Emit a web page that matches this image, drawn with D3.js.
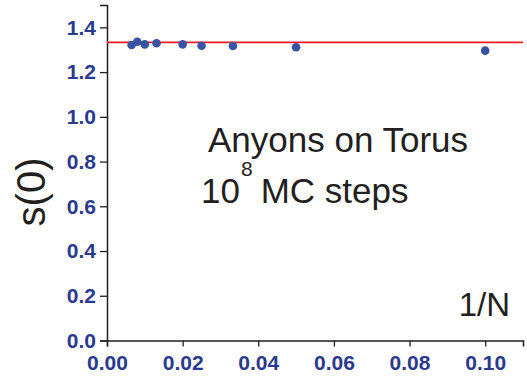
<!DOCTYPE html>
<html>
<head>
<meta charset="utf-8">
<script src="https://cdn.jsdelivr.net/npm/d3@7"></script>
<style>
  html, body { margin: 0; padding: 0; background: #fff; }
  svg { display: block; font-family: Arial, 'Liberation Sans', sans-serif; }
</style>
</head>
<body>
<div id="chart"></div>
<script>
// 1/N values and structure factor s(0)
const invN = [0.0065, 0.0080, 0.0100, 0.0131, 0.0200, 0.0250, 0.0333, 0.0500, 0.1000];
const s0 = [1.321, 1.336, 1.324, 1.329, 1.324, 1.318, 1.317, 1.311, 1.296];
const refLevel = 1.333;
const xTicks = [0, 0.02, 0.04, 0.06, 0.08, 0.10];
const xMinor = [0.01, 0.03, 0.05, 0.07, 0.09, 0.11];
const yTicks = [0, 0.2, 0.4, 0.6, 0.8, 1.0, 1.2, 1.4];
const yMinor = [0.1, 0.3, 0.5, 0.7, 0.9, 1.1, 1.3, 1.5];

const width = 527, height = 377;
const plot = { left: 107, right: 523, top: 5, bottom: 340.5 };
const labelColor = '#2b3990';
const axisColor = '#231f20';

const svg = d3.select('#chart').append('svg')
  .attr('width', width)
  .attr('height', height);

const x = d3.scaleLinear().domain([0, 0.11]).range([plot.left, plot.right]);
const y = d3.scaleLinear().domain([0, 1.5]).range([plot.bottom, plot.top]);

// x axis
const gx = svg.append('g').attr('transform', 'translate(0,' + plot.bottom + ')');
gx.call(d3.axisBottom(x).tickValues(xMinor).tickSize(4).tickFormat(''));
gx.call(d3.axisBottom(x).tickValues(xTicks).tickSize(6).tickPadding(5)
  .tickFormat(d3.format('.2f')));

// y axis
const gy = svg.append('g').attr('transform', 'translate(' + plot.left + ',0)');
gy.call(d3.axisLeft(y).tickValues(yMinor).tickSize(4).tickFormat(''));
gy.call(d3.axisLeft(y).tickValues(yTicks).tickSize(7).tickPadding(4)
  .tickFormat(d3.format('.1f')));

svg.selectAll('.domain').attr('stroke', axisColor).attr('stroke-width', 1.5);
svg.selectAll('.tick line').attr('stroke', axisColor).attr('stroke-width', 1.3);
svg.selectAll('.tick text')
  .attr('fill', labelColor)
  .style('font-size', '21px')
  .style('font-weight', 'bold');
gx.selectAll('.tick text').attr('dy', '0.9em');

// reference line
svg.append('line')
  .attr('x1', x(0)).attr('x2', x(0.11))
  .attr('y1', y(refLevel)).attr('y2', y(refLevel))
  .attr('stroke', '#ec1c24')
  .attr('stroke-width', 1.6);

// data points
svg.selectAll('circle.pt')
  .data(invN)
  .enter()
  .append('circle')
  .attr('class', 'pt')
  .attr('cx', (d) => x(d))
  .attr('cy', (d, i) => y(s0[i]))
  .attr('r', 4.3)
  .attr('fill', '#3a54a4');

// axis titles and annotations
svg.append('text')
  .attr('transform', 'translate(45,192) rotate(-90)')
  .attr('text-anchor', 'middle')
  .style('font-size', '40px')
  .attr('fill', '#231f20')
  .text('s(0)');

svg.append('text')
  .attr('x', 208).attr('y', 152)
  .style('font-size', '35px')
  .attr('fill', '#231f20')
  .text('Anyons on Torus');

const steps = svg.append('text')
  .attr('x', 201).attr('y', 203)
  .style('font-size', '35px')
  .attr('fill', '#231f20');
steps.append('tspan').text('10');
steps.append('tspan').attr('dy', -27).attr('dx', 1).style('font-size', '21px').text('8');
steps.append('tspan').attr('dy', 27).attr('dx', 8).text('MC steps');

svg.append('text')
  .attr('x', 510).attr('y', 316)
  .attr('text-anchor', 'end')
  .style('font-size', '33px')
  .attr('fill', '#231f20')
  .text('1/N');
</script>
</body>
</html>
